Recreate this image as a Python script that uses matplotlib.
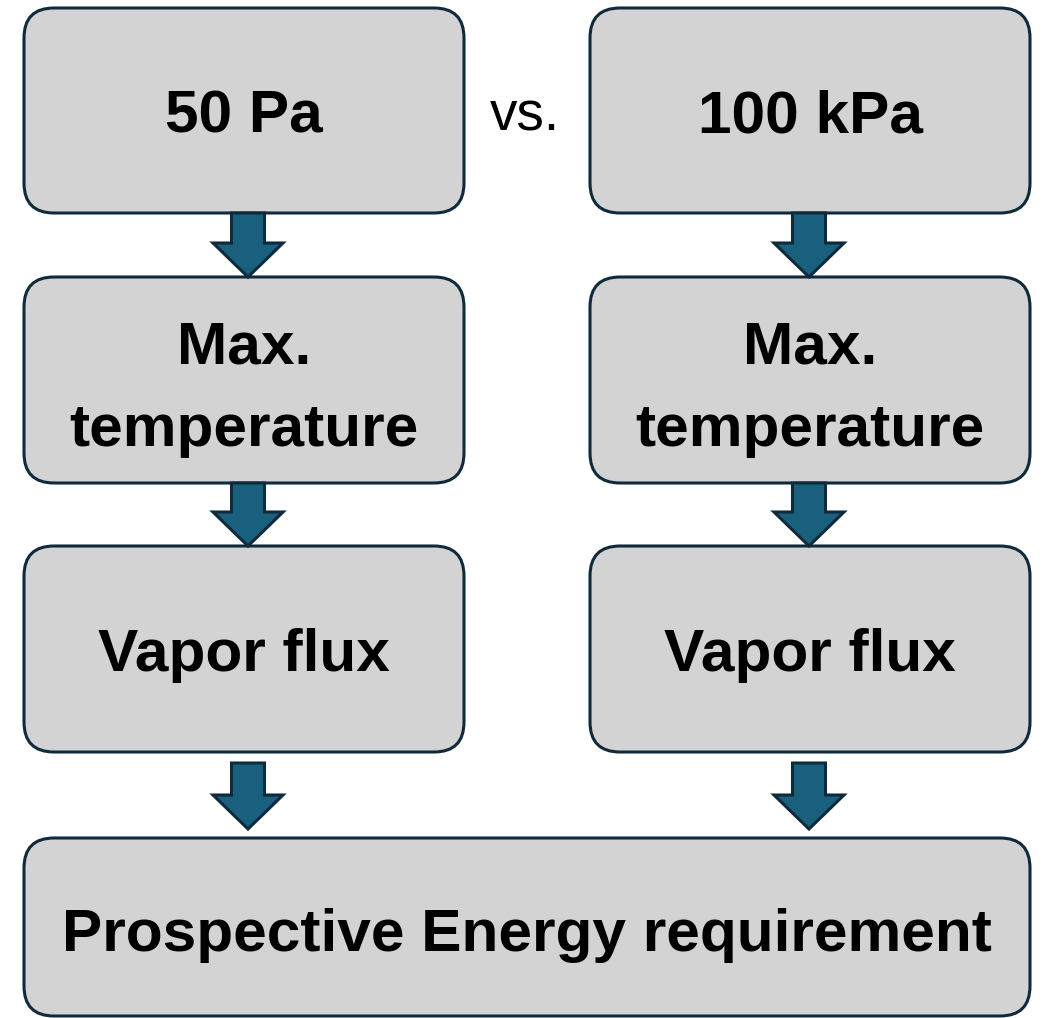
import matplotlib
matplotlib.use("Agg")
import matplotlib.pyplot as plt
from matplotlib.patches import FancyBboxPatch, FancyArrow

# Diagram content
left_labels = [["50 Pa"], ["Max.", "temperature"], ["Vapor flux"]]
right_labels = [["100 kPa"], ["Max.", "temperature"], ["Vapor flux"]]
bottom_label = "Prospective Energy requirement"
middle_label = "vs."

W, H = 1043, 1018
fig = plt.figure(figsize=(W / 100, H / 100), dpi=100)
ax = fig.add_axes([0, 0, 1, 1])
ax.set_xlim(0, W)
ax.set_ylim(H, 0)
ax.axis("off")

FILL = "#d3d3d3"
EDGE = "#0e2a3b"
ARROW = "#19607f"
FONT = ["Liberation Sans", "DejaVu Sans"]
FS = 43.5

col_x = [(24, 464), (590, 1030)]
row_y = [(8, 213), (277, 483), (546, 752)]
# baselines of text lines in each row
row_baselines = [[132], [363, 446], [671]]

def box(x0, x1, y0, y1):
    p = FancyBboxPatch((x0, y0), x1 - x0, y1 - y0,
                       boxstyle="round,pad=0,rounding_size=30",
                       facecolor=FILL, edgecolor=EDGE, linewidth=2.2,
                       zorder=2)
    ax.add_patch(p)

def arrow(xc, y0, y1):
    a = FancyArrow(xc, y0, 0, y1 - y0, width=33, head_width=70,
                   head_length=34, length_includes_head=True,
                   facecolor=ARROW, edgecolor=EDGE, linewidth=2.2,
                   zorder=3)
    ax.add_patch(a)

for ci, labels in enumerate([left_labels, right_labels]):
    x0, x1 = col_x[ci]
    xc = (x0 + x1) / 2
    for ri, lines in enumerate(labels):
        y0, y1 = row_y[ri]
        box(x0, x1, y0, y1)
        for li, line in enumerate(lines):
            ax.text(xc, row_baselines[ri][li], line, ha="center",
                    va="baseline", fontsize=FS, fontweight="bold",
                    family=FONT, zorder=4)
    ax_off = 4 if ci == 0 else -1
    for ri in range(2):
        arrow(xc + ax_off, row_y[ri][1], row_y[ri + 1][0])
    arrow(xc + ax_off, 763, 829)

box(24, 1030, 838, 1016)
ax.text(527, 951, bottom_label, ha="center", va="baseline", fontsize=FS,
        fontweight="bold", family=FONT, zorder=4)

ax.text(525, 130, middle_label, ha="center", va="baseline", fontsize=39.5,
        family=FONT, zorder=4)

fig.savefig("out.png", dpi=100)
